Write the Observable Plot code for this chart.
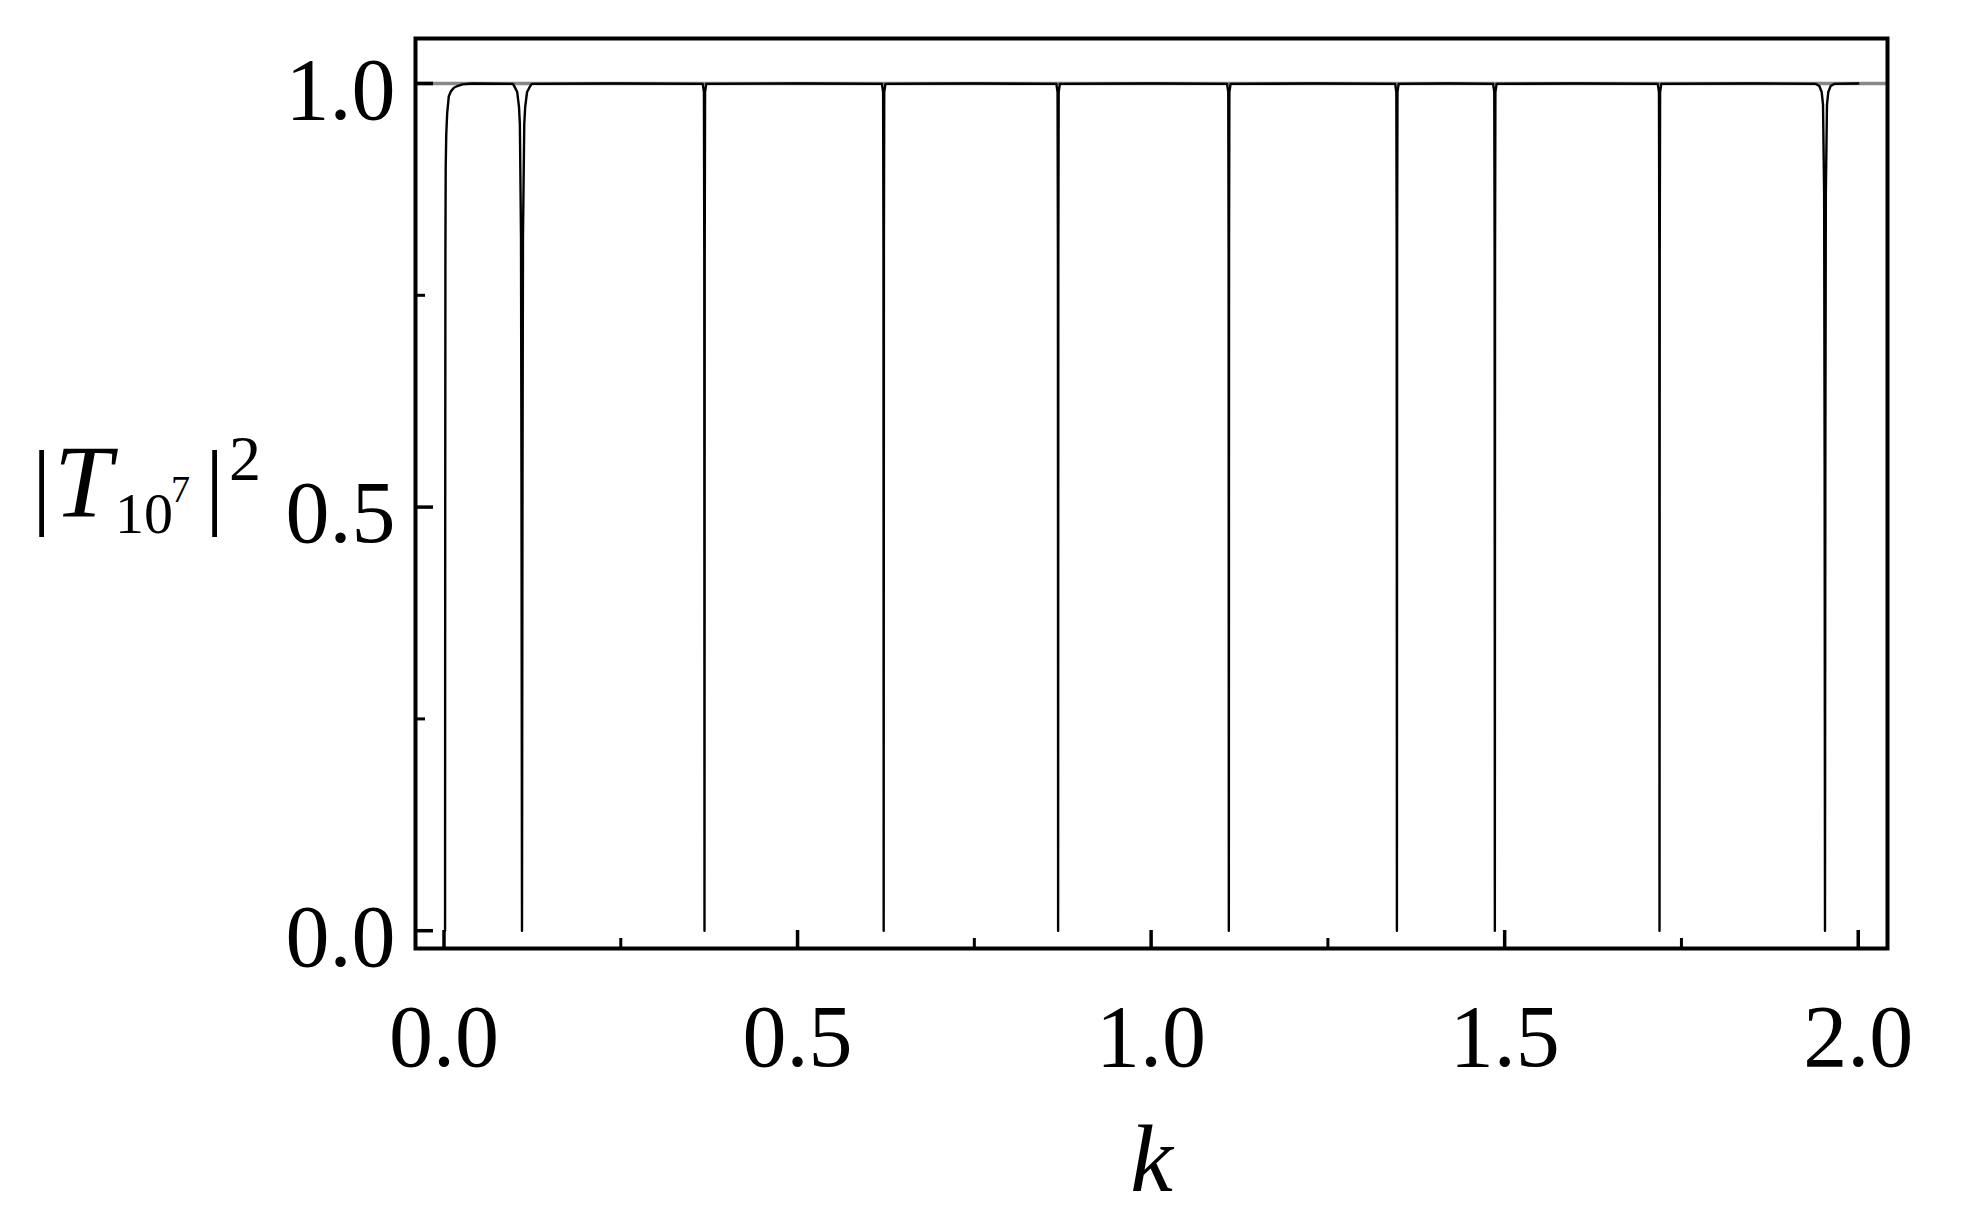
<!DOCTYPE html>
<html>
<head>
<meta charset="utf-8">
<script src="https://cdn.jsdelivr.net/npm/d3@7"></script>
<script src="https://cdn.jsdelivr.net/npm/@observablehq/plot@0.6"></script>
<style>
  html, body { margin: 0; padding: 0; background: #fff; }
  #chart { width: 1977px; height: 1227px; }
</style>
</head>
<body>
<div id="chart"></div>
<script>
// ---- data ----
const kVals = [
  // rise near k = 0
  0.0015, 0.0017, 0.0020, 0.0024, 0.0032, 0.0045, 0.0068, 0.0100, 0.0140, 0.0190, 0.0260, 0.0400,
  // resonance ~0.110 (broader)
  0.0975, 0.0999, 0.1035, 0.1061, 0.1073, 0.1089, 0.1096, 0.1103, 0.1110, 0.1117, 0.1135, 0.1148, 0.1175, 0.1213, 0.1240,
  0.2400,
  // ~0.368
  0.3659, 0.3676, 0.3681, 0.3684, 0.3687, 0.3692, 0.3709,
  0.5000,
  // ~0.622
  0.6193, 0.6210, 0.6215, 0.6218, 0.6221, 0.6226, 0.6243,
  0.7500,
  // ~0.8685
  0.8660, 0.8677, 0.8682, 0.8685, 0.8688, 0.8693, 0.8710,
  1.0000,
  // ~1.110
  1.1074, 1.1091, 1.1096, 1.1099, 1.1102, 1.1107, 1.1124,
  1.2300,
  // ~1.3476
  1.3451, 1.3468, 1.3473, 1.3476, 1.3479, 1.3484, 1.3501,
  1.4200,
  // ~1.4861
  1.4836, 1.4853, 1.4858, 1.4861, 1.4864, 1.4869, 1.4886,
  1.6000,
  // ~1.719
  1.7165, 1.7182, 1.7187, 1.7190, 1.7193, 1.7198, 1.7215,
  1.8500,
  // ~1.953 (broader)
  1.9400, 1.9450, 1.9483, 1.9502, 1.9518, 1.9525, 1.9530, 1.9535, 1.9542, 1.9558, 1.9577, 1.9610, 1.9660,
  2.0000
];
const tVals = [
  0.000, 0.450, 0.800, 0.900, 0.940, 0.965, 0.985, 0.991, 0.995, 0.997, 0.999, 1.000,
  0.9995, 0.996, 0.990, 0.972, 0.952, 0.820, 0.520, 0.000, 0.520, 0.820, 0.952, 0.972, 0.990, 0.996, 0.9995,
  1.000,
  0.9995, 0.990, 0.800, 0.000, 0.800, 0.990, 0.9995,
  1.000,
  0.9995, 0.990, 0.800, 0.000, 0.800, 0.990, 0.9995,
  1.000,
  0.9995, 0.990, 0.800, 0.000, 0.800, 0.990, 0.9995,
  1.000,
  0.9995, 0.990, 0.800, 0.000, 0.800, 0.990, 0.9995,
  1.000,
  0.9995, 0.990, 0.800, 0.000, 0.800, 0.990, 0.9995,
  1.000,
  0.9995, 0.990, 0.800, 0.000, 0.800, 0.990, 0.9995,
  1.000,
  0.9995, 0.990, 0.800, 0.000, 0.800, 0.990, 0.9995,
  1.000,
  0.9995, 0.997, 0.990, 0.975, 0.870, 0.550, 0.000, 0.550, 0.870, 0.975, 0.990, 0.997, 0.9995,
  1.000
];
const xMajorTicks = [0, 0.5, 1.0, 1.5, 2.0];
const xMinorTicks = [0.25, 0.75, 1.25, 1.75];
const yMajorTicks = [0, 0.5, 1.0];
const yMinorTicks = [0.25, 0.75];
const referenceLevel = [1];
const xLabel = "k";

const data = kVals.map((k, i) => ({k, T: tVals[i]}));

const W = 1977, H = 1227;
const mL = 415, mR = 90, mT = 38, mB = 279;
const fontFamily = "'Liberation Serif', 'DejaVu Serif', serif";

const plot = Plot.plot({
  width: W,
  height: H,
  marginLeft: mL,
  marginRight: mR,
  marginTop: mT,
  marginBottom: mB,
  style: {fontFamily, fontSize: "86px", background: "white", color: "black"},
  x: {domain: [-0.0403, 2.0414]},
  y: {domain: [-0.021, 1.0531]},
  marks: [
    Plot.ruleY(referenceLevel, {stroke: "#888", strokeWidth: 3.5}),
    Plot.line(data, {x: "k", y: "T", stroke: "black", strokeWidth: 2.4, curve: "linear"}),
    Plot.axisX({ticks: xMajorTicks, tickSize: -18, text: null, label: null, strokeWidth: 3.5}),
    Plot.axisX({ticks: xMinorTicks, tickSize: -10, text: null, label: null, strokeWidth: 3}),
    Plot.axisX({ticks: xMajorTicks, tickSize: 0, tickPadding: 55, label: null, tickFormat: d3.format(".1f"), fontSize: 88}),
    Plot.axisY({ticks: yMajorTicks, tickSize: -18, text: null, label: null, strokeWidth: 3.5}),
    Plot.axisY({ticks: yMinorTicks, tickSize: -10, text: null, label: null, strokeWidth: 3}),
    Plot.axisY({ticks: yMajorTicks, tickSize: 0, tickPadding: 20, label: null, tickFormat: d3.format(".1f"), fontSize: 88, dy: 7}),
    Plot.frame({stroke: "black", strokeWidth: 4}),
    Plot.text([xLabel], {frameAnchor: "bottom", dy: 242, lineAnchor: "bottom", fontSize: 96, fontStyle: "italic", text: d => d})
  ]
});

// y-axis label |T_{10^7}|^2 built from separate pieces (sub/superscripts)
const svg = d3.select(plot);
const labelParts = [
  {t: "|", x: 32, y: 517, size: 96, italic: false},
  {t: "T", x: 54, y: 517, size: 104, italic: true},
  {t: "10", x: 115, y: 533, size: 58, italic: false},
  {t: "7", x: 171, y: 502, size: 38, italic: false},
  {t: "|", x: 205, y: 517, size: 96, italic: false},
  {t: "2", x: 229, y: 480, size: 64, italic: false}
];
const lab = svg.append("g")
  .attr("font-family", fontFamily)
  .attr("fill", "black")
  .attr("text-anchor", "start");
lab.selectAll("text").data(labelParts).join("text")
  .attr("x", d => d.x)
  .attr("y", d => d.y)
  .attr("text-anchor", "start")
  .attr("font-size", d => d.size)
  .attr("font-style", d => d.italic ? "italic" : "normal")
  .text(d => d.t);

document.getElementById("chart").appendChild(plot);
</script>
</body>
</html>
